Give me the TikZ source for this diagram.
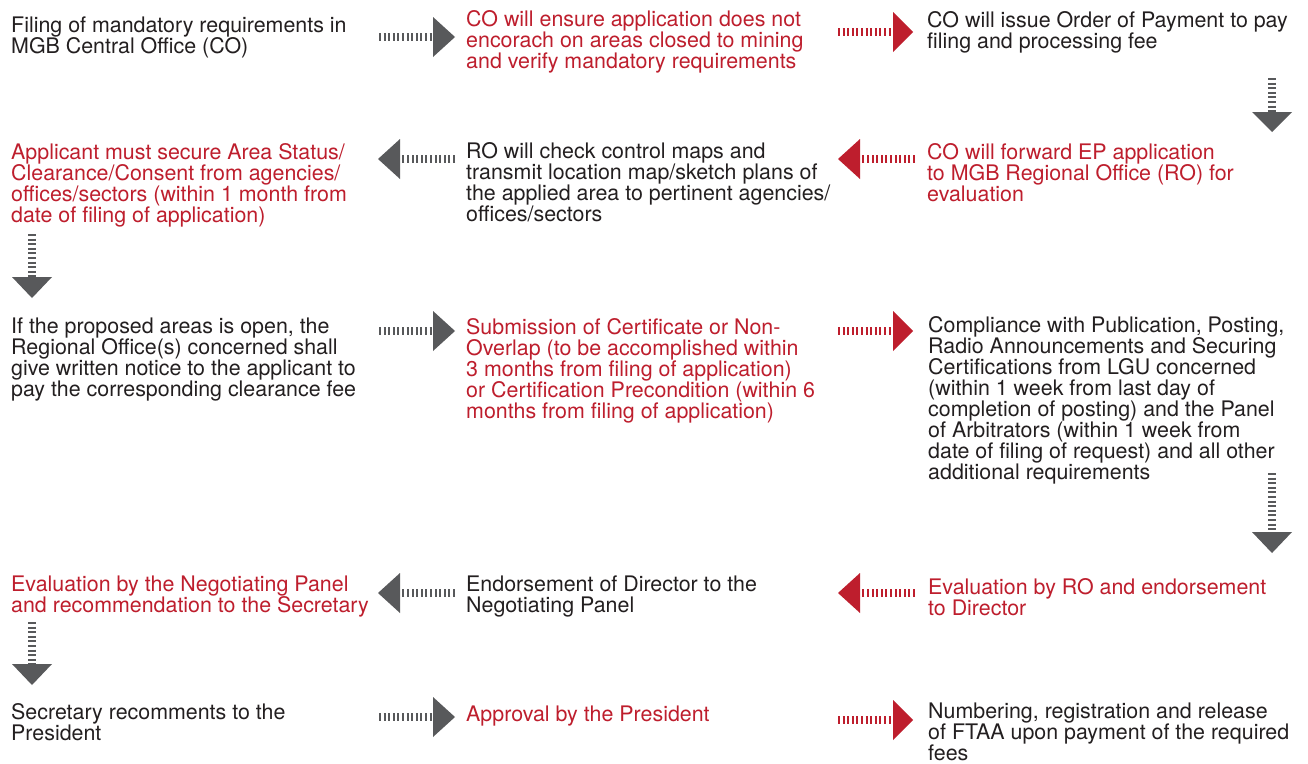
\documentclass[tikz,border=0pt]{standalone}
\usepackage{fontspec}
\setmainfont{TeX Gyre Heros}
\usetikzlibrary{calc}
\definecolor{ag}{RGB}{88,89,91}
\definecolor{ar}{RGB}{190,30,45}
\definecolor{tk}{RGB}{35,31,32}
\tikzset{
  txt/.style={inner sep=0pt,anchor=base west,text=tk,font=\fontsize{21.4}{21}\selectfont},
  redtxt/.style={txt,text=ar},
  shaft/.style={line width=8pt,dash pattern=on 2pt off 2.6pt},
}
\newcommand\para[1]{\parbox[t]{440pt}{\raggedright #1}}
\newcommand\harr[6]{%
  \coordinate (#1s) at (#3,#6);
  \coordinate (#1b) at (#4,#6);
  \coordinate (#1t) at (#5,#6);
  \draw[shaft,#2] (#1s) -- (#1b);
  \fill[#2] ($(#1b)+(0,-20)$) -- (#1t) -- ($(#1b)+(0,20)$) -- cycle;}
\newcommand\varr[6]{%
  \coordinate (#1s) at (#3,#4);
  \coordinate (#1b) at (#3,#5);
  \coordinate (#1t) at (#3,#6);
  \draw[shaft,#2] (#1s) -- (#1b);
  \fill[#2] ($(#1b)+(-20,0)$) -- (#1t) -- ($(#1b)+(20,0)$) -- cycle;}
\begin{document}
\begin{tikzpicture}[x=1pt,y=-1pt]
\fill[white] (0,0) rectangle (1308,763);
\useasboundingbox (0,0) rectangle (1308,763);
% Row 1
\node[txt] (a1) at (11,32) {\para{Filing of mandatory requirements in\\MGB Central Office (CO)}};
\node[redtxt] (a2) at (466,26) {\para{CO will ensure application does not\\encorach on areas closed to mining\\and verify mandatory requirements}};
\node[txt] (a3) at (927,27) {\para{CO will issue Order of Payment to pay\\filing and processing fee}};
% Row 2
\node[redtxt] (b1) at (11,159) {\para{Applicant must secure Area Status/\\Clearance/Consent from agencies/\\offices/sectors (within 1 month from\\date of filing of application)}};
\node[txt] (b2) at (466,158) {\para{RO will check control maps and\\transmit location map/sketch plans of\\the applied area to pertinent agencies/\\offices/sectors}};
\node[redtxt] (b3) at (927,159) {\para{CO will forward EP application\\to MGB Regional Office (RO) for\\evaluation}};
% Row 3
\node[txt] (c1) at (11,333) {\para{If the proposed areas is open, the\\Regional Office(s) concerned shall\\give written notice to the applicant to\\pay the corresponding clearance fee}};
\node[redtxt] (c2) at (466,334) {\para{Submission of Certificate or Non-\\Overlap (to be accomplished within\\3 months from filing of application)\\or Certification Precondition (within 6\\months from filing of application)}};
\node[txt] (c3) at (928,332) {\para{Compliance with Publication, Posting,\\Radio Announcements and Securing\\Certifications from LGU concerned\\(within 1 week from last day of\\completion of posting) and the Panel\\of Arbitrators (within 1 week from\\date of filing of request) and all other\\additional requirements}};
% Row 4
\node[redtxt] (d1) at (11,591) {\para{Evaluation by the Negotiating Panel\\and recommendation to the Secretary}};
\node[txt] (d2) at (466,591) {\para{Endorsement of Director to the\\Negotiating Panel}};
\node[redtxt] (d3) at (928,594) {\para{Evaluation by RO and endorsement\\to Director}};
% Row 5
\node[txt] (e1) at (11,719) {\para{Secretary recomments to the\\President}};
\node[redtxt] (e2) at (466,721) {\para{Approval by the President}};
\node[txt] (e3) at (928,718) {\para{Numbering, registration and release\\of FTAA upon payment of the required\\fees}};
% Arrows
\harr{r1g}{ag}{379}{433}{455}{37}
\harr{r1r}{ar}{838}{893}{913}{32}
\varr{v1}{ag}{1272}{78}{112}{132}
\harr{r2g}{ag}{455}{400}{378}{159}
\harr{r2r}{ar}{915}{860}{838}{159}
\varr{v2}{ag}{32}{234}{277}{298}
\harr{r3g}{ag}{379}{433}{455}{331}
\harr{r3r}{ar}{838}{893}{913}{331}
\varr{v3}{ag}{1272}{473}{532}{553}
\harr{r4g}{ag}{455}{400}{378}{593}
\harr{r4r}{ar}{915}{860}{838}{593}
\varr{v4}{ag}{32}{622}{664}{685}
\harr{r5g}{ag}{379}{433}{455}{717}
\harr{r5r}{ar}{838}{893}{913}{720}
\end{tikzpicture}
\end{document}
